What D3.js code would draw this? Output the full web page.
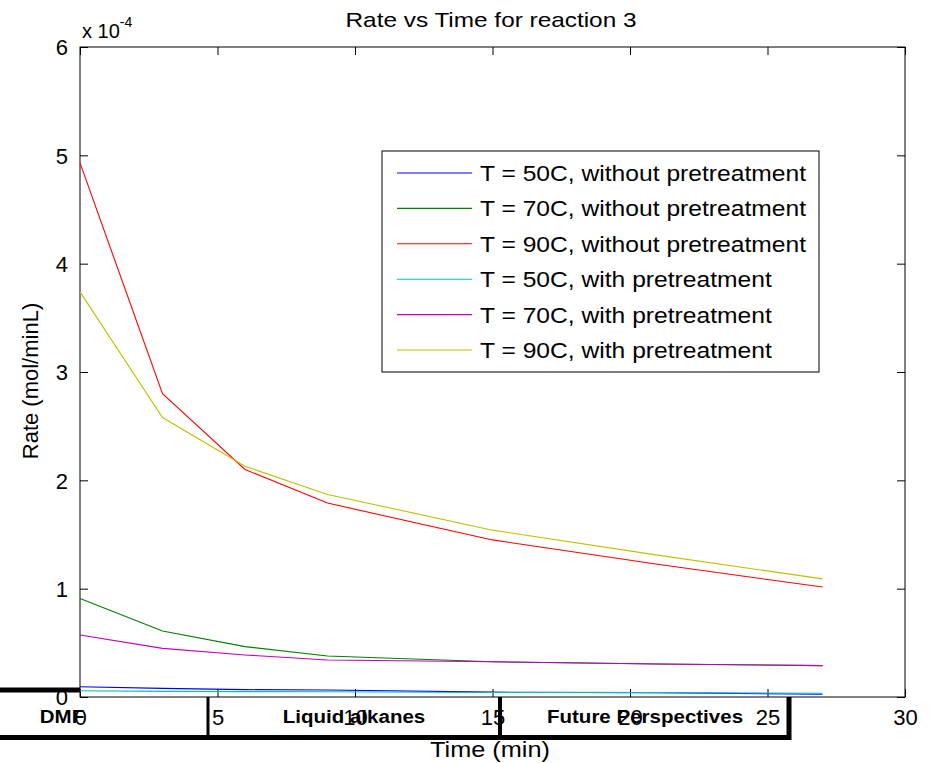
<!DOCTYPE html>
<html><head><meta charset="utf-8">
<script src="https://cdn.jsdelivr.net/npm/d3@7"></script>
<style>body{margin:0;background:#fff}svg{display:block}text{font-family:"Liberation Sans",Arial,sans-serif}</style>
</head><body>
<script>
const times = [0, 3, 6, 9, 15, 21, 27];
const seriesNames = [
  "T = 50C, without pretreatment",
  "T = 70C, without pretreatment",
  "T = 90C, without pretreatment",
  "T = 50C, with pretreatment",
  "T = 70C, with pretreatment",
  "T = 90C, with pretreatment"
];
const blue50   = [0.095, 0.080, 0.068, 0.065, 0.045, 0.040, 0.025];
const green70  = [0.910, 0.610, 0.465, 0.378, 0.325, 0.305, 0.290];
const red90    = [4.930, 2.800, 2.100, 1.790, 1.450, 1.225, 1.015];
const cyan50   = [0.058, 0.052, 0.050, 0.048, 0.042, 0.040, 0.035];
const mag70    = [0.572, 0.449, 0.388, 0.342, 0.325, 0.305, 0.290];
const yel90    = [3.740, 2.580, 2.130, 1.870, 1.540, 1.310, 1.090];
const seriesValues = [blue50, green70, red90, cyan50, mag70, yel90];
const colors = ["#0000ff", "#008000", "#ff0000", "#00bfbf", "#bf00bf", "#bfbf00"];
const xTicks = [0, 5, 10, 15, 20, 25, 30];
const yTicks = [0, 1, 2, 3, 4, 5, 6];
const boxLabels = ["DMF", "Liquid alkanes", "Future Perspectives"];

const W = 936, H = 763;
const svg = d3.select("body").append("svg").attr("width", W).attr("height", H);
const L = 80, R = 905, T = 47, B = 697;
const x = d3.scaleLinear().domain([0, 30]).range([L, R]);
const y = d3.scaleLinear().domain([0, 6]).range([B, T]);

function stext(parent, px, py, sx, size, str, anchor) {
  return parent.append("text").attr("transform", `translate(${px},${py}) scale(${sx},1)`)
    .attr("font-size", size).attr("text-anchor", anchor || "start").text(str);
}

// axes box
svg.append("rect").attr("x", L).attr("y", T).attr("width", R - L).attr("height", B - T)
  .attr("fill", "none").attr("stroke", "#000").attr("stroke-width", 1);

const tl = 8;
const gx = svg.append("g").attr("transform", `translate(0,${B})`)
  .call(d3.axisBottom(x).tickValues(xTicks).tickSize(-tl).tickPadding(12).tickFormat(d3.format("d")));
const gxt = svg.append("g").attr("transform", `translate(0,${T})`)
  .call(d3.axisTop(x).tickValues(xTicks).tickSize(-tl).tickFormat(""));
const gy = svg.append("g").attr("transform", `translate(${L},0)`)
  .call(d3.axisLeft(y).tickValues(yTicks).tickSize(-tl).tickPadding(12).tickFormat(d3.format("d")));
const gyr = svg.append("g").attr("transform", `translate(${R},0)`)
  .call(d3.axisRight(y).tickValues(yTicks).tickSize(-tl).tickFormat(""));
[gx, gxt, gy, gyr].forEach(g => {
  g.select(".domain").remove();
  g.selectAll("line").attr("stroke", "#000").attr("stroke-width", 1);
  g.selectAll("text").attr("font-size", 22).attr("fill", "#000").attr("font-family", "Liberation Sans, Arial, sans-serif");
});
gy.selectAll("text").attr("dy", "0.36em");
gx.selectAll("text").attr("dy", "0.72em");

// exponent
const ex = svg.append("text").attr("x", 82).attr("y", 38).attr("font-size", 20);
ex.append("tspan").text("x 10");
ex.append("tspan").attr("dy", -11).attr("font-size", 14).text("-4");

// title and labels
stext(svg, 491, 27, 1.16, 21, "Rate vs Time for reaction 3", "middle");
stext(svg, 490, 757, 1.15, 22, "Time (min)", "middle");
svg.append("text").attr("transform", `translate(38,${(T + B) / 2 + 9}) rotate(-90)`).attr("text-anchor", "middle")
  .attr("font-size", 22).text("Rate (mol/minL)");

// lines
const line = d3.line().x((d, i) => x(times[i])).y(d => y(d));
seriesValues.forEach((vals, k) => {
  svg.append("path").datum(vals).attr("d", line).attr("fill", "none")
    .attr("stroke", colors[k]).attr("stroke-width", 1.1);
});

// legend
const lg = svg.append("g");
lg.append("rect").attr("x", 382).attr("y", 151).attr("width", 437).attr("height", 221)
  .attr("fill", "#fff").attr("stroke", "#000").attr("stroke-width", 1);
seriesNames.forEach((n, k) => {
  const yy = 173 + k * 35.4;
  lg.append("line").attr("x1", 397).attr("x2", 472).attr("y1", yy).attr("y2", yy)
    .attr("stroke", colors[k]).attr("stroke-width", 1.1);
  stext(lg, 480, yy + 8, 1.12, 22, n);
});

// overlay bar with boxes
const ov = svg.append("g").attr("stroke", "#000");
ov.append("line").attr("x1", 0).attr("x2", 80).attr("y1", 690).attr("y2", 690).attr("stroke-width", 5);
ov.append("line").attr("x1", 0).attr("x2", 791).attr("y1", 737.5).attr("y2", 737.5).attr("stroke-width", 5);
[[208, 3], [500, 4], [789, 5]].forEach(([xx, w]) => {
  ov.append("line").attr("x1", xx).attr("x2", xx).attr("y1", 697).attr("y2", 740).attr("stroke-width", w);
});
const bx = [62, 354, 645];
boxLabels.forEach((t, i) => {
  stext(svg, bx[i], 723, 1.08, 19, t, "middle")
    .attr("font-family", "Lato, sans-serif").attr("font-weight", "bold");
});
</script>
</body></html>
